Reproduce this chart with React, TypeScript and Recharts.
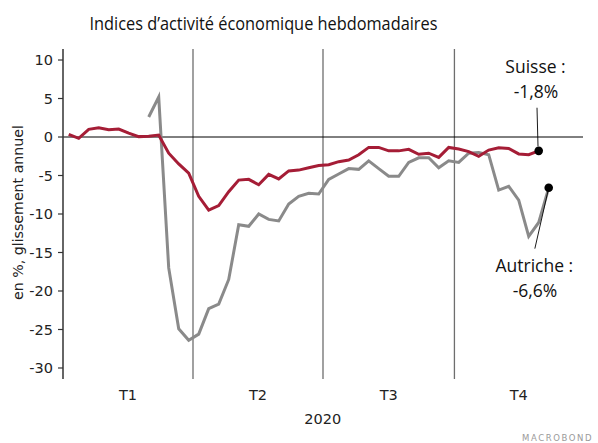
import React from "react";
import { LineChart, Line, XAxis, YAxis, ReferenceLine, ReferenceDot } from "recharts";

const dates = [
  "2020-01-05", "2020-01-12", "2020-01-19", "2020-01-26", "2020-02-02", "2020-02-09", "2020-02-16", "2020-02-23",
  "2020-03-01", "2020-03-08", "2020-03-15", "2020-03-22", "2020-03-29", "2020-04-05", "2020-04-12", "2020-04-19",
  "2020-04-26", "2020-05-03", "2020-05-10", "2020-05-17", "2020-05-24", "2020-05-31", "2020-06-07", "2020-06-14",
  "2020-06-21", "2020-06-28", "2020-07-05", "2020-07-12", "2020-07-19", "2020-07-26", "2020-08-02", "2020-08-09",
  "2020-08-16", "2020-08-23", "2020-08-30", "2020-09-06", "2020-09-13", "2020-09-20", "2020-09-27", "2020-10-04",
  "2020-10-11", "2020-10-18", "2020-10-25", "2020-11-01", "2020-11-08", "2020-11-15", "2020-11-22", "2020-11-29",
  "2020-12-06",
];

const suisse: (number | null)[] = [
  0.35, -0.17, 1.0, 1.2, 0.95, 1.04, 0.5, 0.05, 0.1, 0.25,
  -2.1, -3.5, -4.7, -7.7, -9.5, -8.9, -7.1, -5.6, -5.5, -6.2,
  -4.85, -5.45, -4.4, -4.3, -4.0, -3.7, -3.6, -3.2, -3.0, -2.3,
  -1.35, -1.35, -1.8, -1.8, -1.6, -2.25, -2.1, -2.65, -1.35, -1.55,
  -1.9, -2.5, -1.7, -1.4, -1.5, -2.2, -2.3, -1.8, null,
];

const autriche: (number | null)[] = [
  null, null, null, null, null, null, null, null, 2.6, 5.2,
  -17, -24.9, -26.4, -25.6, -22.3, -21.7, -18.5, -11.4, -11.6, -10.0,
  -10.7, -10.9, -8.7, -7.7, -7.3, -7.4, -5.5, -4.8, -4.1, -4.2,
  -3.1, -4.1, -5.1, -5.1, -3.3, -2.7, -2.7, -4.0, -3.1, -3.3,
  -2.1, -2.0, -2.3, -6.9, -6.4, -8.2, -12.9, -11.1, -6.6,
];

const yTicks = [-30, -25, -20, -15, -10, -5, 0, 5, 10];
const quarterBounds = [0, 91, 182, 274, 364];
const quarterMids = [45.5, 136.5, 228, 319];
const quarterLabels = ["T1", "T2", "T3", "T4"];
const title = "Indices d\u2019activit\u00e9 \u00e9conomique hebdomadaires";
const yTitle = "en %, glissement annuel";
const yearLabel = "2020";

const RED = "#a51d36";
const GREY = "#8a8a8a";

const dayOfYear = (s: string) =>
  Math.round((Date.parse(s + "T00:00:00Z") - Date.parse("2020-01-01T00:00:00Z")) / 86400000);

const data = dates.map((d, i) => ({ day: dayOfYear(d), suisse: suisse[i], autriche: autriche[i] }));

const lastIdx = (arr: (number | null)[]) => {
  for (let i = arr.length - 1; i >= 0; i--) if (arr[i] !== null) return i;
  return 0;
};
const sIdx = lastIdx(suisse);
const aIdx = lastIdx(autriche);
const sDay = data[sIdx].day;
const aDay = data[aIdx].day;
const sVal = suisse[sIdx] as number;
const aVal = autriche[aIdx] as number;
const fmt = (v: number) => (v < 0 ? "-" : "") + Math.abs(v).toFixed(1).replace(".", ",") + "%";

const tickFont = { fontFamily: "DejaVu Sans", fontSize: 14.5, fill: "#222" };
const annFont = "Open Sans";

export default function App() {
  return (
    <div style={{ position: "absolute", left: 0, top: 0, width: 598, height: 443, background: "#fff" }}>
      <LineChart
        width={598}
        height={443}
        data={data}
        margin={{ top: 49, right: 15, bottom: 0, left: 0 }}
      >
        <XAxis
          xAxisId={0}
          type="number"
          dataKey="day"
          domain={[0, 364]}
          allowDataOverflow
          ticks={quarterBounds}
          tick={false}
          tickSize={4}
          height={0}
          axisLine={{ stroke: "#333", strokeWidth: 1.5 }}
          tickLine={{ stroke: "#333", strokeWidth: 1.2 }}
        />
        <XAxis
          xAxisId="q"
          type="number"
          dataKey="day"
          domain={[0, 364]}
          allowDataOverflow
          ticks={quarterMids}
          tickFormatter={(v: number) => quarterLabels[quarterMids.indexOf(v)] ?? ""}
          tick={tickFont}
          tickLine={false}
          axisLine={false}
          tickSize={6}
          tickMargin={5}
          height={64}
        />
        <YAxis
          type="number"
          domain={[-31.43, 11.43]}
          allowDataOverflow
          ticks={yTicks}
          width={63}
          tick={tickFont}
          tickSize={5}
          tickMargin={5}
          axisLine={{ stroke: "#333", strokeWidth: 1.5 }}
          tickLine={{ stroke: "#333", strokeWidth: 1.2 }}
        />
        {quarterBounds.slice(1, 4).map((q) => (
          <ReferenceLine key={q} x={q} stroke="#6e6e6e" strokeWidth={1.3} />
        ))}
        <ReferenceLine y={0} stroke="#000" strokeWidth={1} />
        <Line
          type="linear"
          dataKey="autriche"
          stroke={GREY}
          strokeWidth={3}
          dot={false}
          isAnimationActive={false}
          connectNulls={false}
        />
        <Line
          type="linear"
          dataKey="suisse"
          stroke={RED}
          strokeWidth={3}
          dot={false}
          isAnimationActive={false}
          connectNulls={false}
        />
        <ReferenceLine
          segment={[{ x: sDay - 1.2, y: 3.8 }, { x: sDay - 0.5, y: -1.2 }]}
          stroke="#000"
          strokeWidth={0.9}
        />
        <ReferenceLine
          segment={[{ x: aDay, y: aVal }, { x: aDay - 9.7, y: -14.5 }]}
          stroke="#000"
          strokeWidth={0.9}
        />
        <ReferenceDot x={sDay} y={sVal} r={4.3} fill="#000" stroke="none" />
        <ReferenceDot x={aDay} y={aVal} r={4.3} fill="#000" stroke="none" />
      </LineChart>
      <svg
        width={598}
        height={443}
        style={{ position: "absolute", left: 0, top: 0, pointerEvents: "none" }}
      >
        <text
          x={263.5}
          y={29.5}
          textAnchor="middle"
          fontFamily={annFont}
          fontSize={18}
          fill="#111"
          textLength={348}
          lengthAdjust="spacingAndGlyphs"
        >
          {title}
        </text>
        <text
          transform="translate(22.5,212.5) rotate(-90)"
          textAnchor="middle"
          fontFamily="DejaVu Sans"
          fontSize={14.5}
          fill="#222"
          textLength={175}
          lengthAdjust="spacingAndGlyphs"
        >
          {yTitle}
        </text>
        <text x={322.7} y={423.5} textAnchor="middle" fontFamily="DejaVu Sans" fontSize={14.5} fill="#222">
          {yearLabel}
        </text>
        <text x={535.5} y={73.3} textAnchor="middle" fontFamily={annFont} fontSize={17.5} fill="#111">
          Suisse :
        </text>
        <text x={536} y={98.3} textAnchor="middle" fontFamily={annFont} fontSize={17.5} fill="#111">
          {fmt(sVal)}
        </text>
        <text x={534.3} y={271.7} textAnchor="middle" fontFamily={annFont} fontSize={17.5} fill="#111">
          Autriche :
        </text>
        <text x={535} y={296.7} textAnchor="middle" fontFamily={annFont} fontSize={17.5} fill="#111">
          {fmt(aVal)}
        </text>
        <text x={522} y={441} fontFamily="DejaVu Sans" fontSize={8.5} fill="#9a9a9a" letterSpacing={1.6}>
          MACROBOND
        </text>
      </svg>
    </div>
  );
}
